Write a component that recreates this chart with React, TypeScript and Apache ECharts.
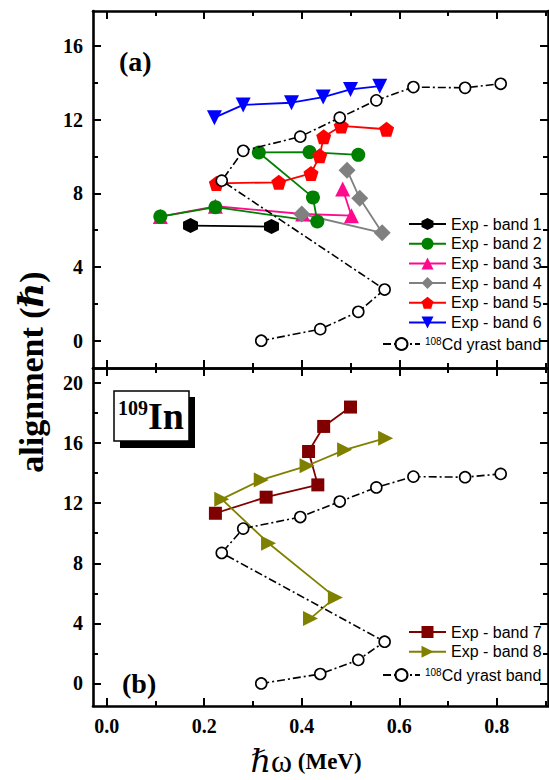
import React, { useEffect, useRef } from "react";
import * as echarts from "echarts";

// ---- data (ħω in MeV, alignment in ħ) ----
const band1 = [[0.172, 6.25], [0.338, 6.2]];
const band2 = [[0.11, 6.74], [0.223, 7.25], [0.432, 6.47], [0.423, 7.78], [0.312, 10.22], [0.416, 10.24], [0.516, 10.09]];
const band3 = [[0.11, 6.74], [0.223, 7.3], [0.402, 6.88], [0.502, 6.79], [0.484, 8.24]];
const band4 = [[0.4, 6.88], [0.565, 5.86], [0.519, 7.73], [0.493, 9.26]];
const band5 = [[0.225, 8.54], [0.353, 8.6], [0.419, 9.08], [0.437, 10.04], [0.445, 11.07], [0.481, 11.66], [0.574, 11.48]];
const band6 = [[0.221, 12.11], [0.28, 12.8], [0.379, 12.92], [0.444, 13.23], [0.5, 13.64], [0.56, 13.82]];
const cdYrast = [[0.317, 0], [0.438, 0.63], [0.516, 1.57], [0.57, 2.78], [0.236, 8.69], [0.28, 10.31], [0.397, 11.08], [0.478, 12.11], [0.553, 13.05], [0.629, 13.77], [0.735, 13.73], [0.808, 13.95]];
const band7 = [[0.223, 11.33], [0.327, 12.4], [0.433, 13.22], [0.414, 15.44], [0.445, 17.11], [0.5, 18.4]];
const band8 = [[0.572, 16.33], [0.488, 15.55], [0.411, 14.49], [0.317, 13.55], [0.236, 12.27], [0.332, 9.33], [0.469, 5.73], [0.418, 4.33]];

const xMajor = [0, 0.2, 0.4, 0.6, 0.8];
const xMinor = [0.1, 0.3, 0.5, 0.7, 0.9];
const yTopMajor = [0, 4, 8, 12, 16];
const yTopMinor = [2, 6, 10, 14];
const yBotMajor = [0, 4, 8, 12, 16, 20];
const yBotMinor = [2, 6, 10, 14, 18];

const CD = "108Cd yrast band";
const topBands = ["Exp - band 1", "Exp - band 2", "Exp - band 3", "Exp - band 4", "Exp - band 5", "Exp - band 6"];
const botBands = ["Exp - band 7", "Exp - band 8"];

const SERIF = "'Liberation Serif', 'Times New Roman', 'DejaVu Serif', serif";
const SANS = "'Liberation Sans', Arial, sans-serif";

const HEX = "path://M5,0L9.33,2.5L9.33,7.5L5,10L0.67,7.5L0.67,2.5Z";
const PENT = "path://M5,0L10,3.63L8.09,9.5L1.91,9.5L0,3.63Z";
const DOWN = "path://M0,0L10,0L5,8.66Z";
const RIGHT = "path://M0,0L8.66,5L0,10Z";

const X_MIN = -0.028, X_MAX = 0.905;
const YT_MIN = -1.48, YT_MAX = 17.9;
const YB_MIN = -1.5, YB_MAX = 21;

function axis(gridIndex: number, position: string, min: number, max: number, ticks: number[], len: number, showLine: boolean, labels?: number[], fmt?: (v: number) => string) {
  return {
    type: "value",
    gridIndex,
    position,
    min,
    max,
    axisLine: { show: showLine, onZero: false, lineStyle: { color: "#000", width: 2.6 } },
    axisTick: { show: true, inside: true, length: len, customValues: ticks, lineStyle: { color: "#000", width: 2 } },
    axisLabel: labels
      ? { show: true, customValues: labels, margin: 10, color: "#000", fontFamily: SERIF, fontSize: 20, fontWeight: "bold", formatter: fmt }
      : { show: false },
    splitLine: { show: false },
  };
}

function line(name: string, data: number[][], color: string, symbol: string, size: number, xi: number, yi: number, extra: any = {}) {
  return {
    type: "line",
    name,
    data,
    xAxisIndex: xi,
    yAxisIndex: yi,
    symbol,
    symbolSize: size,
    itemStyle: { color },
    lineStyle: { color, width: 1.8 },
    ...extra,
  };
}

function cdSeries(xi: number, yi: number) {
  return {
    type: "line",
    name: CD,
    data: cdYrast,
    xAxisIndex: xi,
    yAxisIndex: yi,
    symbol: "circle",
    symbolSize: 11,
    itemStyle: { color: "#fff", borderColor: "#000", borderWidth: 1.6 },
    lineStyle: { color: "#000", width: 1.6, type: [8, 3, 2, 3] },
    z: 5,
  };
}

const legendText = {
  color: "#000",
  fontFamily: SANS,
  fontSize: 16,
  lineHeight: 16,
  rich: {
    sup: { fontFamily: SANS, fontSize: 10, color: "#000", verticalAlign: "top", lineHeight: 16 },
    t: { fontFamily: SANS, fontSize: 16, color: "#000", lineHeight: 16 },
  },
};
const legendFmt = (n: string) => (n === CD ? "{sup|108}{t|Cd yrast band}" : n);

export default function App() {
  const ref = useRef<HTMLDivElement>(null);
  useEffect(() => {
    if (!ref.current) return;
    const chart = echarts.init(ref.current, undefined, { renderer: "svg" });
    const fx = (v: number) => v.toFixed(1);
    const fy = (v: number) => String(Math.round(v));
    const xAxes = [
      axis(0, "bottom", X_MIN, X_MAX, xMajor, 8, true),
      axis(0, "bottom", X_MIN, X_MAX, xMinor, 5, false),
      axis(0, "top", X_MIN, X_MAX, xMajor, 8, true),
      axis(0, "top", X_MIN, X_MAX, xMinor, 5, false),
      axis(1, "bottom", X_MIN, X_MAX, xMajor, 8, true, xMajor, fx),
      axis(1, "bottom", X_MIN, X_MAX, xMinor, 5, false),
      axis(1, "top", X_MIN, X_MAX, xMajor, 8, true),
      axis(1, "top", X_MIN, X_MAX, xMinor, 5, false),
    ];
    const yAxes = [
      axis(0, "left", YT_MIN, YT_MAX, yTopMajor, 8, true, yTopMajor, fy),
      axis(0, "left", YT_MIN, YT_MAX, yTopMinor, 5, false),
      axis(0, "right", YT_MIN, YT_MAX, yTopMajor, 8, true),
      axis(0, "right", YT_MIN, YT_MAX, yTopMinor, 5, false),
      axis(1, "left", YB_MIN, YB_MAX, yBotMajor, 8, true, yBotMajor, fy),
      axis(1, "left", YB_MIN, YB_MAX, yBotMinor, 5, false),
      axis(1, "right", YB_MIN, YB_MAX, yBotMajor, 8, true),
      axis(1, "right", YB_MIN, YB_MAX, yBotMinor, 5, false),
    ];
    const series: any[] = [
      line(topBands[0], band1, "#000000", HEX, 15, 0, 0),
      line(topBands[2], band3, "#ff0a8c", "triangle", 15, 0, 0),
      line(topBands[3], band4, "#808080", "diamond", 17, 0, 0),
      line(topBands[1], band2, "#008000", "circle", 14, 0, 0),
      line(topBands[4], band5, "#ff0000", PENT, 15, 0, 0),
      line(topBands[5], band6, "#0000ff", DOWN, 15, 0, 0),
      cdSeries(0, 0),
      line(botBands[0], band7, "#800000", "rect", 13, 4, 4),
      line(botBands[1], band8, "#808000", RIGHT, 15, 4, 4),
      cdSeries(4, 4),
    ];
    const commonLegend = {
      orient: "vertical",
      padding: 0,
      itemWidth: 37,
      itemHeight: 15,
      itemGap: 3.7,
      textStyle: legendText,
      formatter: legendFmt,
      selectedMode: false,
    };
    chart.setOption({
      animation: false,
      backgroundColor: "#fff",
      grid: [
        { left: 93, top: 11, width: 455, height: 357 },
        { left: 93, top: 368, width: 455, height: 338 },
      ],
      xAxis: xAxes,
      yAxis: yAxes,
      legend: [
        { ...commonLegend, data: topBands, left: 408, top: 216 },
        { ...commonLegend, data: [CD], left: 382, top: 336 },
        { ...commonLegend, data: botBands, left: 408, top: 624 },
        { ...commonLegend, data: [CD], left: 382, top: 667 },
      ],
      series,
      graphic: [
        {
          type: "text",
          x: 119,
          y: 61,
          style: { text: "(a)", font: `bold 28px ${SERIF}`, fill: "#000", textAlign: "left", textVerticalAlign: "middle" },
        },
        {
          type: "text",
          x: 122,
          y: 683,
          style: { text: "(b)", font: `bold 28px ${SERIF}`, fill: "#000", textAlign: "left", textVerticalAlign: "middle" },
        },
        { type: "rect", shape: { x: 120, y: 397, width: 75, height: 51 }, style: { fill: "#000" }, z: 10 },
        { type: "rect", shape: { x: 114, y: 391, width: 75, height: 50 }, style: { fill: "#fff", stroke: "#000", lineWidth: 1.5 }, z: 11 },
        {
          type: "text",
          x: 151,
          y: 416,
          z: 12,
          style: {
            text: "{s|109}{b|In}",
            textAlign: "center",
            textVerticalAlign: "middle",
            rich: {
              s: { fontFamily: SERIF, fontWeight: "bold", fontSize: 20, fill: "#000", verticalAlign: "top", lineHeight: 36 },
              b: { fontFamily: SERIF, fontWeight: "bold", fontSize: 38, fill: "#000", lineHeight: 36 },
            },
          },
        },
        {
          type: "text",
          x: 31,
          y: 372,
          rotation: Math.PI / 2,
          style: {
            text: "{b|alignment (}{i|ℏ}{b|)}",
            textAlign: "center",
            textVerticalAlign: "middle",
            rich: {
              b: { fontFamily: SERIF, fontWeight: "bold", fontSize: 34, fill: "#000" },
              i: { fontFamily: SERIF, fontWeight: "bold", fontStyle: "italic", fontSize: 34, fill: "#000" },
            },
          },
        },
        {
          type: "text",
          x: 306,
          y: 761,
          style: {
            text: "{i|ℏ}{w|ω}{b| (MeV)}",
            textAlign: "center",
            textVerticalAlign: "middle",
            rich: {
              i: { fontFamily: SERIF, fontStyle: "italic", fontSize: 32, fill: "#000", lineHeight: 34 },
              w: { fontFamily: SERIF, fontSize: 32, fill: "#000", lineHeight: 34 },
              b: { fontFamily: SERIF, fontWeight: "bold", fontSize: 23, fill: "#000", lineHeight: 34 },
            },
          },
        },
      ],
    });
    return () => chart.dispose();
  }, []);
  return <div ref={ref} style={{ position: "fixed", left: 0, top: 0, width: 549, height: 780, background: "#fff" }} />;
}
